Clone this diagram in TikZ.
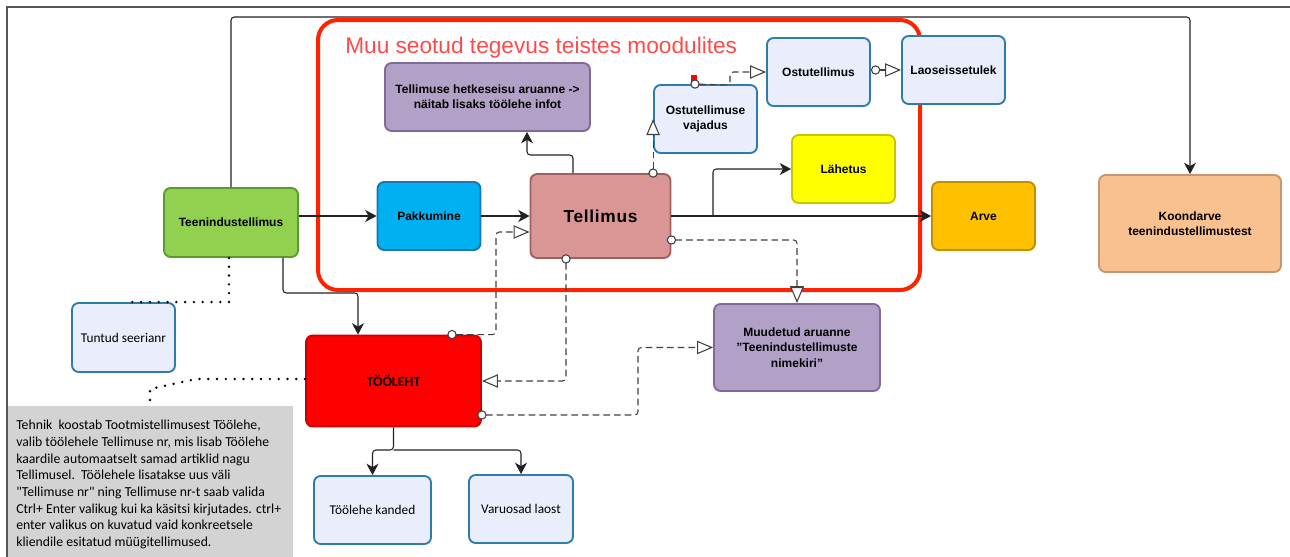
\documentclass[tikz,border=0pt]{standalone}
\usepackage{fontspec}
\setmainfont{Liberation Sans}
\newfontfamily\calfont{Carlito}
\usetikzlibrary{arrows.meta}
\definecolor{grpred}{HTML}{FF2200}
\definecolor{titred}{HTML}{FF4A4A}
\definecolor{pf}{HTML}{B2A1C7}
\definecolor{pd}{HTML}{7F6A98}
\definecolor{lf}{HTML}{EAEEFC}
\definecolor{ld}{HTML}{2E7CAE}
\definecolor{grf}{HTML}{92D050}
\definecolor{grd}{HTML}{5B9A2E}
\definecolor{cyf}{HTML}{00B0F0}
\definecolor{cyd}{HTML}{1C75AE}
\definecolor{pkf}{HTML}{D99694}
\definecolor{pkd}{HTML}{A0605E}
\definecolor{yef}{HTML}{FFFF00}
\definecolor{yed}{HTML}{C8C400}
\definecolor{orf}{HTML}{FFC000}
\definecolor{ord}{HTML}{BF8F00}
\definecolor{pef}{HTML}{F9C090}
\definecolor{ped}{HTML}{C89570}
\definecolor{rdf}{HTML}{FF0000}
\definecolor{rdd}{HTML}{CC0000}
\definecolor{gryf}{HTML}{D3D3D3}
\definecolor{lc}{HTML}{222222}
\definecolor{dc}{HTML}{404040}
\definecolor{frm}{HTML}{555555}
\tikzset{
 box/.style={draw, rounded corners=5pt, line width=1.4pt, inner sep=2pt, align=center,
   font=\bfseries\fontsize{9}{11.5}\selectfont},
 sz/.style 2 args={minimum width=#1*0.75pt, minimum height=#2*0.75pt},
 pbox/.style={box, fill=pf, draw=pd},
 lbox/.style={box, fill=lf, draw=ld},
 rbox/.style={lbox, font=\calfont\fontsize{10}{12}\selectfont},
 con/.style={draw=lc, line width=0.8pt, rounded corners=2.5pt},
 arr/.style={con, arrows={-Stealth[length=8.5pt,width=9pt,inset=2.5pt]}},
 dsh/.style={con, draw=dc, dash pattern=on 5pt off 3pt},
 ct/.style={arrows={Circle[length=7pt,fill=white]-Triangle[length=12pt,width=10pt,fill=white]}, shorten <=-3.5pt},
 cbt/.style={arrows={Circle[length=7pt,fill=white]-Bar[width=10pt] Triangle[length=12pt,width=10pt,fill=white]}, shorten <=-3.5pt},
 dotl/.style={draw=black, line width=2pt, line cap=round, dash pattern=on 0pt off 6.6pt},
}
\begin{document}
\begin{tikzpicture}[x=0.75pt,y=-0.75pt]
\useasboundingbox (0,0) rectangle (1290,557);
\draw[draw=frm, line width=0.8pt] (7,557) -- (7,7) -- (1290,7);
% group
\node[draw=grpred, line width=3pt, rounded corners=15pt, sz={602}{270}] (grp) at (619,155) {};
\node[anchor=base west, inner sep=0, text=titred, font=\fontsize{17}{20}\selectfont] (title) at (345,53) {Muu seotud tegevus teistes moodulites};
% nodes
\node[box, fill=grf, draw=grd, sz={134}{69}] (teen) at (231,222.5) {Teenindustellimus};
\node[box, fill=cyf, draw=cyd, sz={103}{68}] (pak) at (429,216) {Pakkumine};
\node[box, fill=pkf, draw=pkd, sz={140}{84}, font=\bfseries\fontsize{13}{15}\selectfont] (tel) at (600.5,216) {\addfontfeature{LetterSpace=4}Tellimus};
\node[pbox, sz={205}{68}] (hetk) at (487.5,97) {Tellimuse hetkeseisu aruanne ->\\näitab lisaks töölehe infot};
\node[lbox, sz={103}{68}] (vaj) at (705.5,119) {Ostutellimuse\\vajadus};
\node[lbox, sz={103}{68}] (ostu) at (818.5,72) {Ostutellimus};
\node[lbox, sz={103}{68}] (lao) at (953.5,70) {Laoseissetulek};
\node[box, fill=yef, draw=yed, sz={103}{68}] (lah) at (843.5,169) {Lähetus};
\node[box, fill=orf, draw=ord, sz={103}{68}] (arve) at (983.5,216) {Arve};
\node[box, fill=pef, draw=ped, sz={182}{97}] (koond) at (1190,223.5) {Koondarve\\teenindustellimustest};
\node[rbox, sz={103}{69}] (tuntud) at (123.5,337.5) {Tuntud seerianr};
\node[box, fill=rdf, draw=rdd, sz={175}{91}, font=\calfont\bfseries\fontsize{10.5}{12}\selectfont] (tooleht) at (393.5,381) {TÖÖLEHT};
\node[pbox, sz={166}{87}, font=\bfseries\fontsize{9}{11.6}\selectfont] (muud) at (797,347.5) {Muudetud aruanne\\\symbol{34}Teenindustellimuste\\nimekiri\symbol{34}};
\node[rbox, sz={117}{68}] (kanded) at (372.5,510) {Töölehe kanded};
\node[rbox, sz={104}{68}] (varuo) at (521,509) {Varuosad laost};
\node[fill=gryf, inner sep=0, anchor=north west, sz={285}{151}] (note) at (8,406) {};
\node[anchor=north west, inner sep=0, align=left, font=\calfont\fontsize{10.3}{12.5}\selectfont] (notetxt) at (16,420) {Tehnik\ \ koostab Tootmistellimusest Töölehe,\\valib töölehele Tellimuse nr, mis lisab Töölehe\\kaardile automaatselt samad artiklid nagu\\Tellimusel.\ \ Töölehele lisatakse uus väli\\\symbol{34}Tellimuse nr\symbol{34} ning Tellimuse nr-t saab valida\\Ctrl+ Enter valikug kui ka käsitsi kirjutades. ctrl+\\enter valikus on kuvatud vaid konkreetsele\\kliendile esitatud müügitellimused.};
% connectors
\coordinate (topy) at (0,17);
\draw[arr] (teen.north) -- (teen.north |- topy) -- (koond.north |- topy) -- (koond.north);
\draw[arr] (teen.east |- pak.west) -- (pak.west);
\draw[arr] (pak.east) -- (tel.west);
\draw[arr] (573,0 |- tel.north) -- (573,155) -- (527,155) -- (527,0 |- hetk.south);
\draw[arr] (tel.east) -- (arve.west);
\coordinate (br) at (713,216);
\draw[arr] (br) -- (br |- lah.west) -- (lah.west);
\draw[dsh, ct] (vaj.west |- tel.north) -- (vaj.west);
\fill[red] (691,75) rectangle (697,83);
\draw[dsh, ct] (695,0 |- vaj.north) -- (730,85) -- (730,0 |- ostu.west) -- (ostu.west);
\draw[con, draw=dc, arrows={Circle[length=7pt,fill=white]-Triangle[length=12pt,width=10pt,fill=white]}] (ostu.east |- lao.west) -- (lao.west);
\draw[dsh, cbt] (tel.east |- 0,240) -| (muud.north);
\draw[dsh, ct] (566,0 |- tel.south) |- (tooleht.east);
\draw[dsh, ct] (452,0 |- tooleht.north) -- (496,0 |- tooleht.north) -- (496,232) -- (tel.west |- 0,232);
\draw[dsh, ct] (tooleht.east |- 0,415) -- (638,415) |- (muud.west);
\draw[arr] (283,0 |- teen.south) -- (283,293) -- (358,293) -- (358,0 |- tooleht.north);
\coordinate (tb) at (393.5,450);
\draw[arr] (tooleht.south) -- (tb) -| (kanded.north);
\draw[arr] (tb) -| (varuo.north);
\draw[dotl] (229,0 |- teen.south) |- (127,0 |- tuntud.north);
\draw[dotl] (tooleht.west |- 0,379) -- (196,379) -- (150,389) -- (150,401);
\end{tikzpicture}
\end{document}
